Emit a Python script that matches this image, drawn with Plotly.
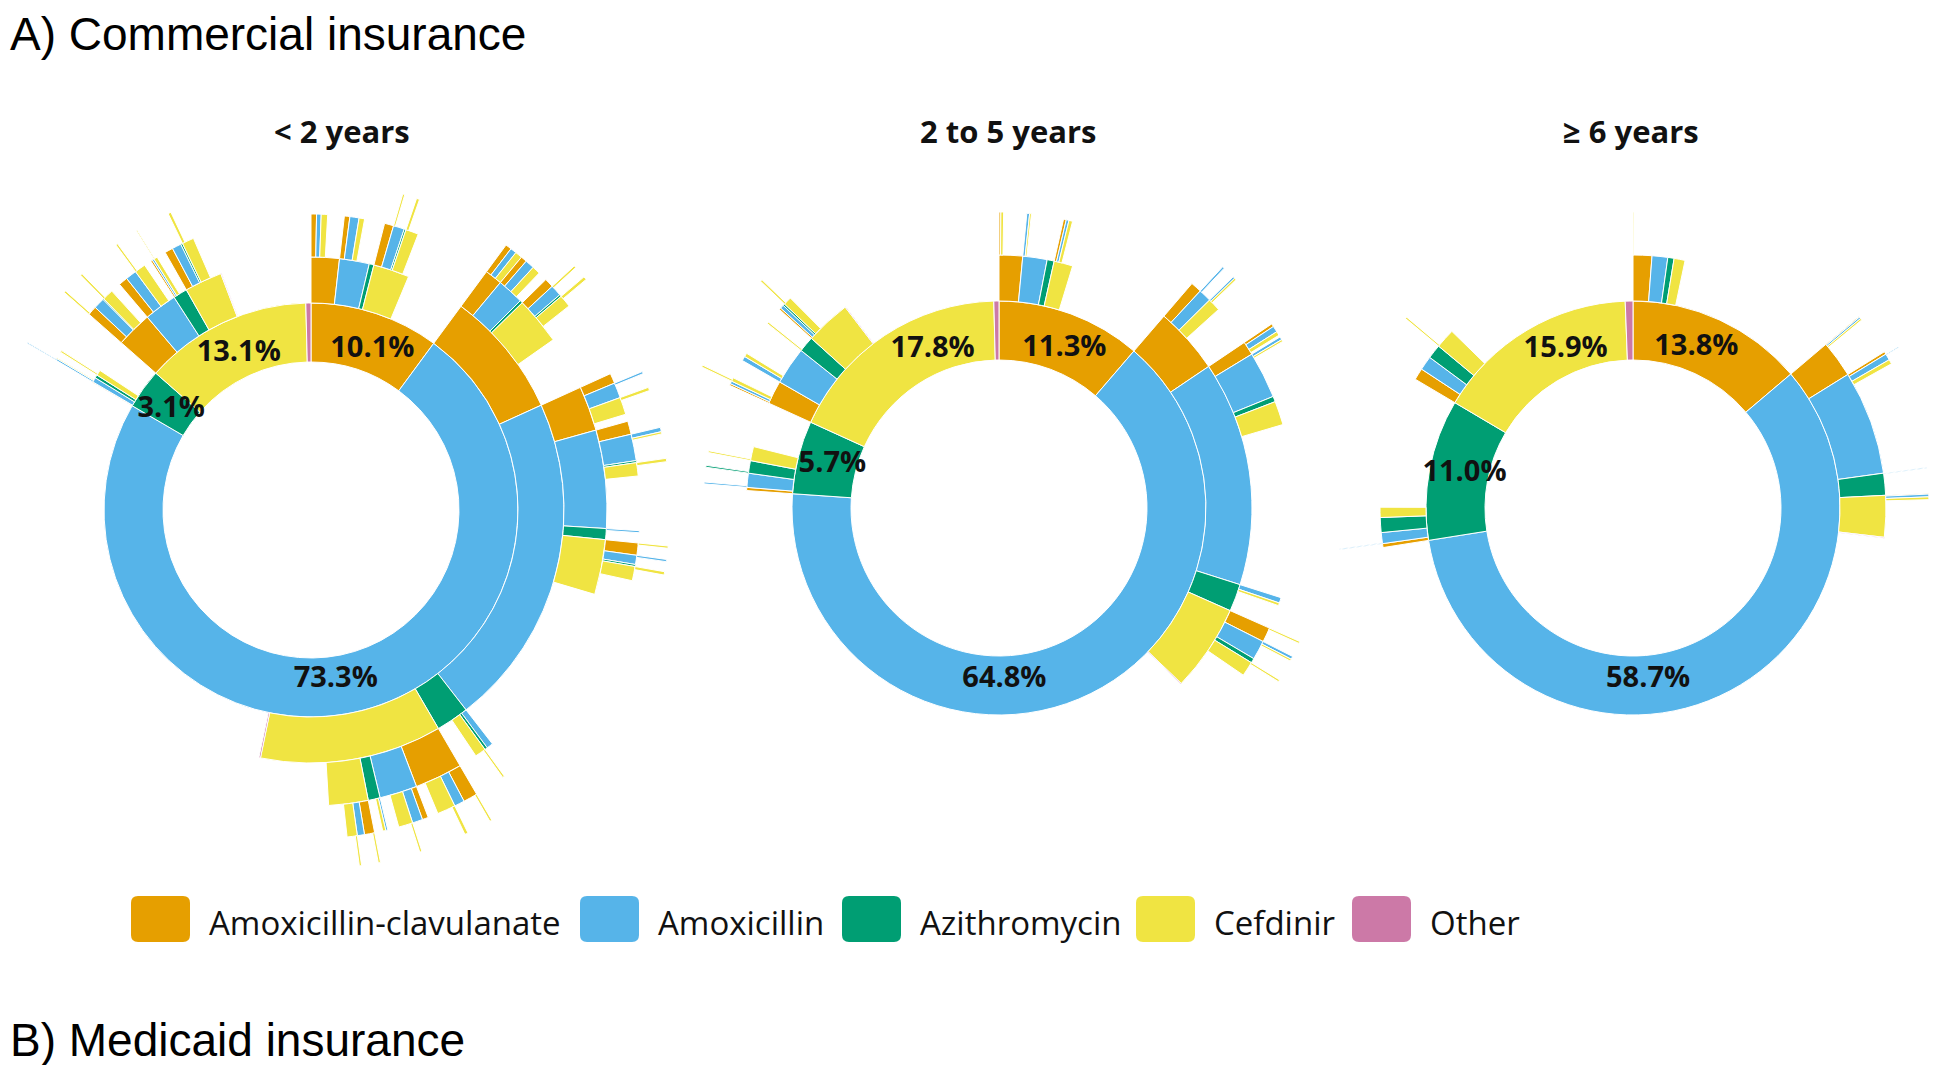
import math
import plotly.graph_objects as go

# drug codes in clockwise order, with names and colours
drugs = ["AC", "A", "Az", "C", "O"]
drug_names = ["Amoxicillin-clavulanate", "Amoxicillin", "Azithromycin", "Cefdinir", "Other"]
drug_colors = ["#E69F00", "#56B4E9", "#009E73", "#F0E442", "#CC79A7"]

age_groups = ["< 2 years", "2 to 5 years", "\u2265 6 years"]

# prescription sequences (first/second/third ...), value = % of children
lt2_seq = [
    ("AC", 10.1), ("A", 73.3), ("Az", 3.1), ("C", 13.1), ("O", 0.4),
    ("AC/AC", 1.8), ("AC/A", 1.9), ("AC/Az", 0.3), ("AC/C", 2.3),
    ("AC/AC/AC", 0.3), ("AC/AC/A", 0.25), ("AC/AC/C", 0.35),
    ("AC/A/AC", 0.3), ("AC/A/A", 0.5), ("AC/A/C", 0.3),
    ("AC/C/AC", 0.5), ("AC/C/A", 0.6), ("AC/C/Az", 0.1), ("AC/C/C", 0.7),
    ("AC/C/A/C", 0.1), ("AC/C/C/C", 0.15),
    ("A/AC", 8.1), ("A/A", 21.3), ("A/Az", 2.1), ("A/C", 11.6), ("A/O", 0.1),
    ("A/AC/AC", 0.95), ("A/AC/A", 1.45), ("A/AC/Az", 0.15), ("A/AC/C", 2.6),
    ("A/AC/AC/AC", 0.3), ("A/AC/AC/A", 0.3), ("A/AC/AC/C", 0.35),
    ("A/AC/A/AC", 0.3), ("A/AC/A/A", 0.45), ("A/AC/A/C", 0.4),
    ("A/AC/C/AC", 0.45), ("A/AC/C/A", 0.55), ("A/AC/C/Az", 0.1), ("A/AC/C/C", 0.6),
    ("A/AC/C/A/C", 0.1), ("A/AC/C/C/C", 0.15),
    ("A/A/AC", 2.45), ("A/A/A", 5.35), ("A/A/Az", 0.6), ("A/A/C", 3.0),
    ("A/A/AC/AC", 0.5), ("A/A/AC/A", 0.75), ("A/A/AC/C", 0.85),
    ("A/A/AC/A/A", 0.1), ("A/A/AC/C/C", 0.15),
    ("A/A/A/AC", 0.65), ("A/A/A/A", 1.3), ("A/A/A/Az", 0.1), ("A/A/A/C", 0.65),
    ("A/A/A/A/A", 0.2), ("A/A/A/A/C", 0.1), ("A/A/A/C/C", 0.15),
    ("A/A/Az/A", 0.1),
    ("A/A/C/AC", 0.6), ("A/A/C/A", 0.45), ("A/A/C/Az", 0.1), ("A/A/C/C", 0.7),
    ("A/A/C/AC/C", 0.1), ("A/A/C/A/A", 0.1), ("A/A/C/C/C", 0.15),
    ("A/Az/A", 0.35), ("A/Az/Az", 0.15), ("A/Az/C", 0.6),
    ("A/Az/C/C", 0.1),
    ("A/C/AC", 2.6), ("A/C/A", 2.05), ("A/C/Az", 0.65), ("A/C/C", 2.15),
    ("A/C/AC/AC", 0.7), ("A/C/AC/A", 0.5), ("A/C/AC/C", 0.9),
    ("A/C/AC/AC/C", 0.1), ("A/C/AC/C/C", 0.15),
    ("A/C/A/AC", 0.3), ("A/C/A/A", 0.5), ("A/C/A/C", 0.7),
    ("A/C/A/C/C", 0.1),
    ("A/C/Az/A", 0.1), ("A/C/Az/C", 0.15),
    ("A/C/C/AC", 0.5), ("A/C/C/A", 0.35), ("A/C/C/C", 0.5),
    ("A/C/C/AC/C", 0.1), ("A/C/C/C/C", 0.1),
    ("Az/AC", 0.05), ("Az/A", 0.3), ("Az/Az", 0.2), ("Az/C", 0.35),
    ("Az/A/A", 0.1), ("Az/A/C", 0.05), ("Az/A/A/A", 0.05), ("Az/C/C", 0.1),
    ("C/AC", 2.3), ("C/A", 2.1), ("C/Az", 0.9), ("C/C", 2.4), ("C/O", 0.05),
    ("C/AC/AC", 0.5), ("C/AC/A", 0.6), ("C/AC/Az", 0.05), ("C/AC/C", 0.6),
    ("C/AC/AC/C", 0.1), ("C/AC/C/C", 0.1),
    ("C/A/AC", 0.5), ("C/A/A", 0.6), ("C/A/C", 0.6),
    ("C/A/C/C", 0.1),
    ("C/Az/AC", 0.1), ("C/Az/A", 0.1), ("C/Az/C", 0.2),
    ("C/Az/C/C", 0.05),
    ("C/C/AC", 0.45), ("C/C/A", 0.5), ("C/C/Az", 0.1), ("C/C/C", 0.65),
    ("C/C/C/C", 0.15),
]

age2to5_seq = [
    ("AC", 11.3), ("A", 64.8), ("Az", 5.7), ("C", 17.8), ("O", 0.4),
    ("AC/AC", 1.5), ("AC/A", 1.55), ("AC/Az", 0.45), ("AC/C", 1.2),
    ("AC/AC/AC", 0.1), ("AC/AC/C", 0.15),
    ("AC/A/A", 0.15), ("AC/A/C", 0.1),
    ("AC/C/AC", 0.15), ("AC/C/A", 0.15), ("AC/C/C", 0.2),
    ("A/AC", 4.25), ("A/A", 14.35), ("A/Az", 1.75), ("A/C", 5.55), ("A/O", 0.05),
    ("A/AC/AC", 0.6), ("A/AC/A", 0.7), ("A/AC/C", 0.7),
    ("A/AC/A/A", 0.1), ("A/AC/C/A", 0.1), ("A/AC/C/C", 0.1),
    ("A/A/AC", 0.75), ("A/A/A", 2.55), ("A/A/Az", 0.3), ("A/A/C", 1.3),
    ("A/A/AC/AC", 0.15), ("A/A/AC/A", 0.3), ("A/A/AC/C", 0.2),
    ("A/A/A/A", 0.15), ("A/A/A/C", 0.1),
    ("A/Az/A", 0.3), ("A/Az/C", 0.15),
    ("A/C/AC", 0.8), ("A/C/A", 1.05), ("A/C/Az", 0.25), ("A/C/C", 0.8),
    ("A/C/AC/C", 0.1), ("A/C/A/A", 0.15), ("A/C/A/C", 0.1), ("A/C/C/C", 0.1),
    ("Az/AC", 0.2), ("Az/A", 0.9), ("Az/Az", 0.8), ("Az/C", 0.9),
    ("Az/A/A", 0.1), ("Az/Az/Az", 0.1), ("Az/C/C", 0.1),
    ("C/AC", 1.5), ("C/A", 2.4), ("C/Az", 1.0), ("C/C", 2.9), ("C/O", 0.05),
    ("C/AC/AC", 0.1), ("C/AC/A", 0.15), ("C/AC/C", 0.2),
    ("C/AC/C/C", 0.1),
    ("C/A/A", 0.25), ("C/A/C", 0.2),
    ("C/Az/C", 0.1),
    ("C/C/AC", 0.1), ("C/C/A", 0.2), ("C/C/Az", 0.1), ("C/C/C", 0.45),
    ("C/C/C/C", 0.1),
]

ge6_seq = [
    ("AC", 13.8), ("A", 58.7), ("Az", 11.0), ("C", 15.9), ("O", 0.6),
    ("AC/AC", 1.2), ("AC/A", 1.0), ("AC/Az", 0.4), ("AC/C", 0.7),
    ("AC/AC/C", 0.05),
    ("A/AC", 2.35), ("A/A", 6.65), ("A/Az", 1.4), ("A/C", 2.65), ("A/O", 0.05),
    ("A/AC/AC", 0.05), ("A/AC/A", 0.1), ("A/AC/C", 0.1),
    ("A/A/AC", 0.15), ("A/A/A", 0.35), ("A/A/C", 0.25),
    ("A/A/A/A", 0.05),
    ("A/Az/A", 0.05),
    ("A/C/AC", 0.05), ("A/C/A", 0.15), ("A/C/C", 0.15),
    ("Az/AC", 0.25), ("Az/A", 0.7), ("Az/Az", 0.95), ("Az/C", 0.65),
    ("Az/A/A", 0.05),
    ("C/AC", 0.75), ("C/A", 0.9), ("C/Az", 0.9), ("C/C", 1.25),
    ("C/C/C", 0.1),
]

panels = [lt2_seq, age2to5_seq, ge6_seq]

# where the percentage label of each first-line drug sits (% of the circle, clockwise from 12 o'clock)
label_at = [
    [5.8, 47.7, 84.9, 93.1],
    [6.2, 49.5, 79.0, 93.7],
    [6.0, 48.6, 78.2, 93.6],
]

# ---- geometry (screen pixels) ----
W, H = 1935, 1057          # figure size, page adds an 8px body margin
OFF = 8
rings = [(148, 207), (207, 253), (253, 296), (296, 329), (329, 359)]
label_r = 172
centers = [(311, 510), (999, 508), (1633, 508)]
title_x = [342, 1008, 1631]

# each panel is drawn through one or more polar sectors so that it fits in the page
# (panel, sector in screen degrees, radius px)
parts = [
    (0, [-90, 90], 360),
    (0, [90, 270], 300),
    (0, [90, 150], 345),
    (1, [0, 360], 360),
    (2, [90, 270], 360),
    (2, [-90, 90], 310),
]


def px(x):
    return (x - OFF) / W


def py(y):
    return 1 - (y - OFF) / H


def sector_bbox(sector):
    if sector[1] - sector[0] >= 360:
        return -1, -1, 1, 1
    angs = [sector[0], sector[1]] + [a for a in range(-360, 721, 90) if sector[0] < a < sector[1]]
    xs = [0] + [round(math.cos(math.radians(a)), 6) for a in angs]
    ys = [0] + [round(math.sin(math.radians(a)), 6) for a in angs]
    return min(xs), min(ys), max(xs), max(ys)


def arrange(seq):
    # lay each sequence out inside its parent, starting at the parent's start angle
    cursor = {"": 0.0}
    starts, spans, depth, color = [], [], [], []
    for path, v in seq:
        parent = path.rsplit("/", 1)[0] if "/" in path else ""
        s = cursor[parent]
        cursor[parent] = s + v
        cursor[path] = s
        starts.append(s)
        spans.append(v)
        depth.append(path.count("/"))
        color.append(drug_colors[drugs.index(path.split("/")[-1])])
    return starts, spans, depth, color


fig = go.Figure()
layout_polars = {}
n = 0

for k, sector, R in parts:
    starts, spans, depth, color = arrange(panels[k])
    n += 1
    sub = "polar" if n == 1 else "polar%d" % n
    fig.add_trace(go.Barpolar(
        theta=[(s + v / 2) * 3.6 for s, v in zip(starts, spans)],
        width=[v * 3.6 for v in spans],
        base=[rings[d][0] for d in depth],
        r=[rings[d][1] - rings[d][0] for d in depth],
        marker=dict(color=color, line=dict(color="white", width=1)),
        hoverinfo="skip",
        subplot=sub,
    ))
    cx, cy = centers[k]
    x0, y0, x1, y1 = sector_bbox(sector)
    layout_polars[sub] = dict(
        domain=dict(x=[px(cx + x0 * R), px(cx + x1 * R)], y=[py(cy - y0 * R), py(cy - y1 * R)]),
        sector=sector,
        bgcolor="rgba(0,0,0,0)",
        barmode="overlay",
        angularaxis=dict(visible=False, rotation=90, direction="clockwise"),
        radialaxis=dict(visible=False, range=[0, R]),
    )

# percentage labels of the first antibiotic, one full polar per panel on top
for k, seq in enumerate(panels):
    n += 1
    sub = "polar%d" % n
    first = [(p, v) for p, v in seq if "/" not in p and p != "O"]
    fig.add_trace(go.Scatterpolar(
        theta=[a * 3.6 for a in label_at[k]],
        r=[label_r] * len(first),
        mode="text",
        text=["%.1f%%" % v for p, v in first],
        textfont=dict(family="Open Sans", size=29, color="#111111", weight="bold"),
        hoverinfo="skip",
        subplot=sub,
    ))
    cx, cy = centers[k]
    R = 300
    layout_polars[sub] = dict(
        domain=dict(x=[px(cx - R), px(cx + R)], y=[py(cy + R), py(cy - R)]),
        bgcolor="rgba(0,0,0,0)",
        angularaxis=dict(visible=False, rotation=90, direction="clockwise"),
        radialaxis=dict(visible=False, range=[0, R]),
    )

annotations = []
for i, name in enumerate(age_groups):
    annotations.append(dict(
        x=px(title_x[i]), y=py(131), xref="paper", yref="paper",
        text=name, showarrow=False, xanchor="center", yanchor="middle",
        font=dict(family="Open Sans", size=31, color="#111111", weight="bold"),
    ))

annotations.append(dict(
    x=0, y=py(34), xref="paper", yref="paper", text="A) Commercial insurance",
    showarrow=False, xanchor="left", yanchor="middle",
    font=dict(family="Liberation Sans, Arial", size=46, color="black"),
))
annotations.append(dict(
    x=0, y=py(1040), xref="paper", yref="paper", text="B) Medicaid insurance",
    showarrow=False, xanchor="left", yanchor="middle",
    font=dict(family="Liberation Sans, Arial", size=46, color="black"),
))

# legend: rounded swatches + names
legend_x = [131, 580, 842, 1136, 1352]
sw_w, sw_y0, sw_y1, rad = 59, 896, 942, 7
shapes = []
for i, name in enumerate(drug_names):
    x0 = legend_x[i]
    x1 = x0 + sw_w
    pts = [
        ("M", x0 + rad, sw_y0), ("L", x1 - rad, sw_y0), ("Q", x1, sw_y0, x1, sw_y0 + rad),
        ("L", x1, sw_y1 - rad), ("Q", x1, sw_y1, x1 - rad, sw_y1), ("L", x0 + rad, sw_y1),
        ("Q", x0, sw_y1, x0, sw_y1 - rad), ("L", x0, sw_y0 + rad), ("Q", x0, sw_y0, x0 + rad, sw_y0),
    ]
    path = ""
    for p in pts:
        if p[0] == "Q":
            path += "Q%.5f,%.5f %.5f,%.5f " % (px(p[1]), py(p[2]), px(p[3]), py(p[4]))
        else:
            path += "%s%.5f,%.5f " % (p[0], px(p[1]), py(p[2]))
    shapes.append(dict(type="path", path=path + "Z", xref="paper", yref="paper",
                       fillcolor=drug_colors[i], line=dict(width=0)))
    annotations.append(dict(
        x=px(x1 + 17), y=py(922), xref="paper", yref="paper", text=name,
        showarrow=False, xanchor="left", yanchor="middle",
        font=dict(family="Open Sans", size=33, color="#111111"),
    ))

fig.update_layout(
    width=W, height=H,
    margin=dict(l=0, r=0, t=0, b=0),
    paper_bgcolor="white",
    plot_bgcolor="white",
    showlegend=False,
    annotations=annotations,
    shapes=shapes,
    **layout_polars,
)

fig.write_html("out.html")
